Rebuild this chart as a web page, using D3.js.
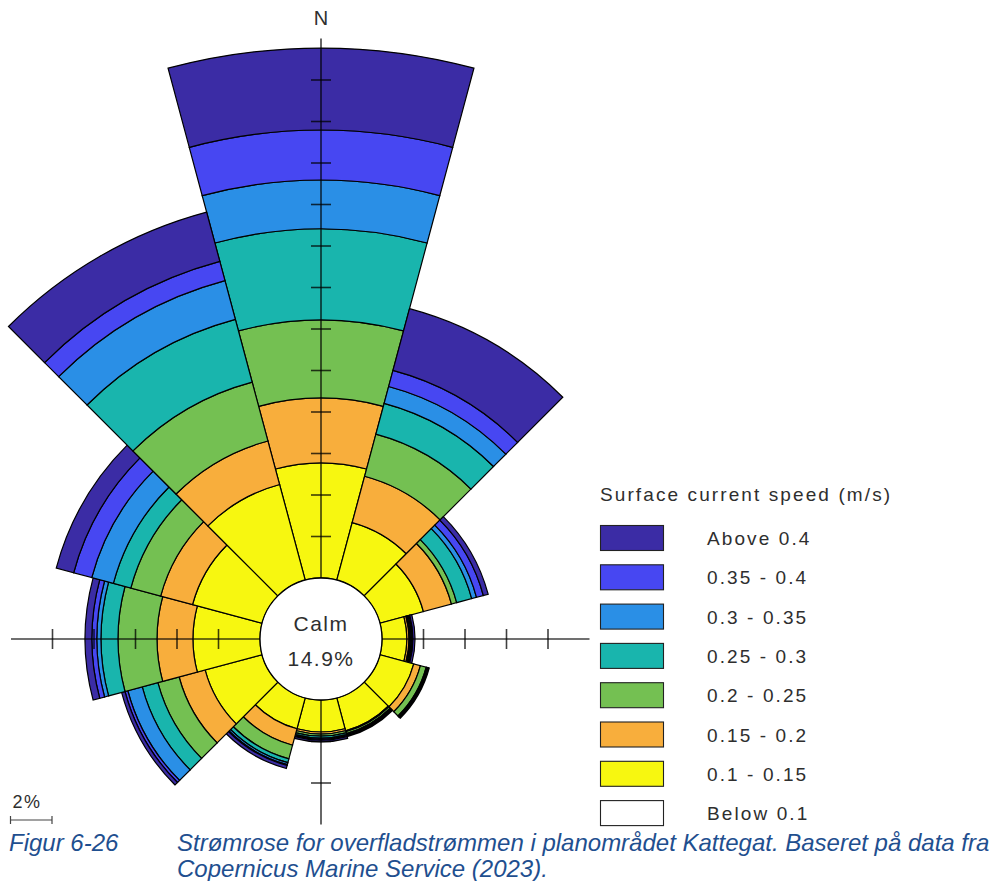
<!DOCTYPE html>
<meta charset="utf-8">
<style>
body { margin: 0; background: #fff; }
text { font-family: "Liberation Sans", Arial, sans-serif; }
.lbl { fill: #2e2e2e; font-size: 19px; letter-spacing: 2.1px; }
.cap { fill: #1f4f8f; font-size: 24px; font-style: italic; }
</style>
<svg width="994" height="881"></svg>
<script src="https://d3js.org/d3.v7.min.js"></script>
<script>

// directions the sectors point to (degrees from north, clockwise)
var directions = [0, 30, 60, 90, 120, 150, 180, 210, 240, 270, 300, 330];

// frequency (%) per speed class and direction
var below010 = [0, 0, 0, 0, 0, 0, 0, 0, 0, 0, 0, 0];
var s010_015 = [5.54, 2.87, 2.17, 1.20, 1.69, 1.64, 1.54, 1.54, 2.84, 3.23, 3.47, 4.77];
var s015_020 = [3.13, 2.31, 1.40, 0.10, 0.33, 0.05, 0.10, 0.82, 1.30, 1.73, 1.59, 2.17];
var s020_025 = [3.76, 2.10, 0.26, 0.05, 0.29, 0.09, 0.10, 0.68, 1.06, 1.88, 1.49, 2.94];
var s025_030 = [4.39, 1.54, 0.75, 0.05, 0.05, 0.05, 0.09, 0.19, 0.78, 0.82, 0.87, 3.13];
var s030_035 = [2.36, 0.84, 0.24, 0.05, 0.03, 0.03, 0.05, 0.10, 0.72, 0.20, 1.08, 1.93];
var s035_040 = [2.41, 0.80, 0.34, 0.04, 0.02, 0.02, 0.05, 0.04, 0.14, 0.24, 0.90, 0.96];
var above040 = [3.95, 3.08, 0.24, 0.10, 0.05, 0.05, 0.09, 0.15, 0.17, 0.33, 0.87, 2.46];

var binLabels = ["Below 0.1", "0.1 - 0.15", "0.15 - 0.2", "0.2 - 0.25", "0.25 - 0.3", "0.3 - 0.35", "0.35 - 0.4", "Above 0.4"];
var binColors = ["#ffffff", "#f7f710", "#f8ae3c", "#74c052", "#19b5ad", "#2a8fe6", "#4747f2", "#3b2ca5"];
var series = [below010, s010_015, s015_020, s020_025, s025_030, s030_035, s035_040, above040];

var calmPct = 14.9;
// axis length (%) for N, E, S, W and tick step
var axisDirs = [0, 90, 180, 270];
var axisExtent = [26, 10, 6, 12];
var tickStep = 2;

var svg = d3.select("svg"),
    cx = 321, cy = 639;

var r = d3.scaleLinear().domain([0, 26]).range([61, 61 + 26 * 20.75]);

var g = svg.append("g").attr("transform", "translate(" + cx + "," + cy + ")");

/* Stacked sectors */

var rad = Math.PI / 180;
var arc = d3.arc();
var cells = [];
directions.forEach(function(dir, i) {
  var cum = 0;
  series.forEach(function(s, k) {
    var v = s[i];
    if (v > 0) {
      cells.push({dir: dir, k: k, r0: r(cum), r1: r(cum + v)});
    }
    cum += v;
  });
});

g.selectAll(".cell")
  .data(cells)
  .enter().append("path")
    .attr("class", "cell")
    .attr("d", function(d) {
      return arc({innerRadius: d.r0, outerRadius: d.r1,
                  startAngle: (d.dir - 15) * rad, endAngle: (d.dir + 15) * rad});
    })
    .style("fill", function(d) { return binColors[d.k]; })
    .style("stroke", "#000")
    .style("stroke-width", 1.2);

/* Axes with ticks */

axisDirs.forEach(function(dir, i) {
  var a = dir * rad, sx = Math.sin(a), sy = -Math.cos(a);
  var len = axisExtent[i];
  g.append("line")
    .attr("x1", r(0) * sx).attr("y1", r(0) * sy)
    .attr("x2", r(len) * sx).attr("y2", r(len) * sy)
    .style("stroke", "#000").style("stroke-opacity", 0.75).style("stroke-width", 1.6);
  var ticks = d3.range(tickStep, len, tickStep);
  g.selectAll(".tick" + i)
    .data(ticks)
    .enter().append("line")
      .attr("x1", function(t) { return r(t) * sx - 10 * sy; })
      .attr("y1", function(t) { return r(t) * sy + 10 * sx; })
      .attr("x2", function(t) { return r(t) * sx + 10 * sy; })
      .attr("y2", function(t) { return r(t) * sy - 10 * sx; })
      .style("stroke", "#000").style("stroke-opacity", 0.75).style("stroke-width", 1.6);
});

/* Calm circle */

g.append("circle")
  .attr("r", r(0))
  .style("fill", "#fff")
  .style("stroke", "#000")
  .style("stroke-width", 1.3);

g.append("text").attr("class", "lbl")
  .attr("text-anchor", "middle").attr("y", -8)
  .style("font-size", "21px").style("letter-spacing", "1.5px")
  .text("Calm");
g.append("text").attr("class", "lbl")
  .attr("text-anchor", "middle").attr("y", 27)
  .style("font-size", "21px").style("letter-spacing", "1.5px")
  .text(calmPct.toFixed(1) + "%");

svg.append("text").attr("class", "lbl")
  .attr("x", cx).attr("y", 25)
  .attr("text-anchor", "middle")
  .style("font-size", "20px").style("letter-spacing", "0px")
  .text("N");

/* Scale bar */

var barLen = r(2) - r(0);
var sb = svg.append("g").attr("transform", "translate(10.5,820)");
sb.append("line").attr("x1", 0).attr("x2", barLen).style("stroke", "#444").style("stroke-width", 1.2);
sb.append("line").attr("y1", -4).attr("y2", 4).style("stroke", "#444").style("stroke-width", 1.2);
sb.append("line").attr("x1", barLen).attr("x2", barLen).attr("y1", -4).attr("y2", 4).style("stroke", "#444").style("stroke-width", 1.2);
sb.append("text").attr("class", "lbl").attr("x", 2).attr("y", -12)
  .style("font-size", "18px").style("letter-spacing", "1.5px").text("2%");

/* Legend */

var lg = svg.append("g").attr("transform", "translate(600,0)");
lg.append("text").attr("class", "lbl").attr("x", 0).attr("y", 501)
  .text("Surface current speed (m/s)");

var order = d3.range(binLabels.length).reverse();
var row = lg.selectAll(".row")
  .data(order)
  .enter().append("g")
    .attr("class", "row")
    .attr("transform", function(k, j) { return "translate(0," + (525 + j * 39.3) + ")"; });
row.append("rect")
  .attr("x", 0.5).attr("y", 0.5).attr("width", 63).attr("height", 25)
  .style("fill", function(k) { return binColors[k]; })
  .style("stroke", "#222").style("stroke-width", 1.1);
row.append("text").attr("class", "lbl")
  .attr("x", 107).attr("y", 20)
  .text(function(k) { return binLabels[k]; });

/* Caption */

svg.append("text").attr("class", "cap").attr("x", 9).attr("y", 851).text("Figur 6-26");
svg.append("text").attr("class", "cap").attr("x", 177).attr("y", 851)
  .text("Strømrose for overfladstrømmen i planområdet Kattegat. Baseret på data fra");
svg.append("text").attr("class", "cap").attr("x", 177).attr("y", 877)
  .text("Copernicus Marine Service (2023).");

</script>
